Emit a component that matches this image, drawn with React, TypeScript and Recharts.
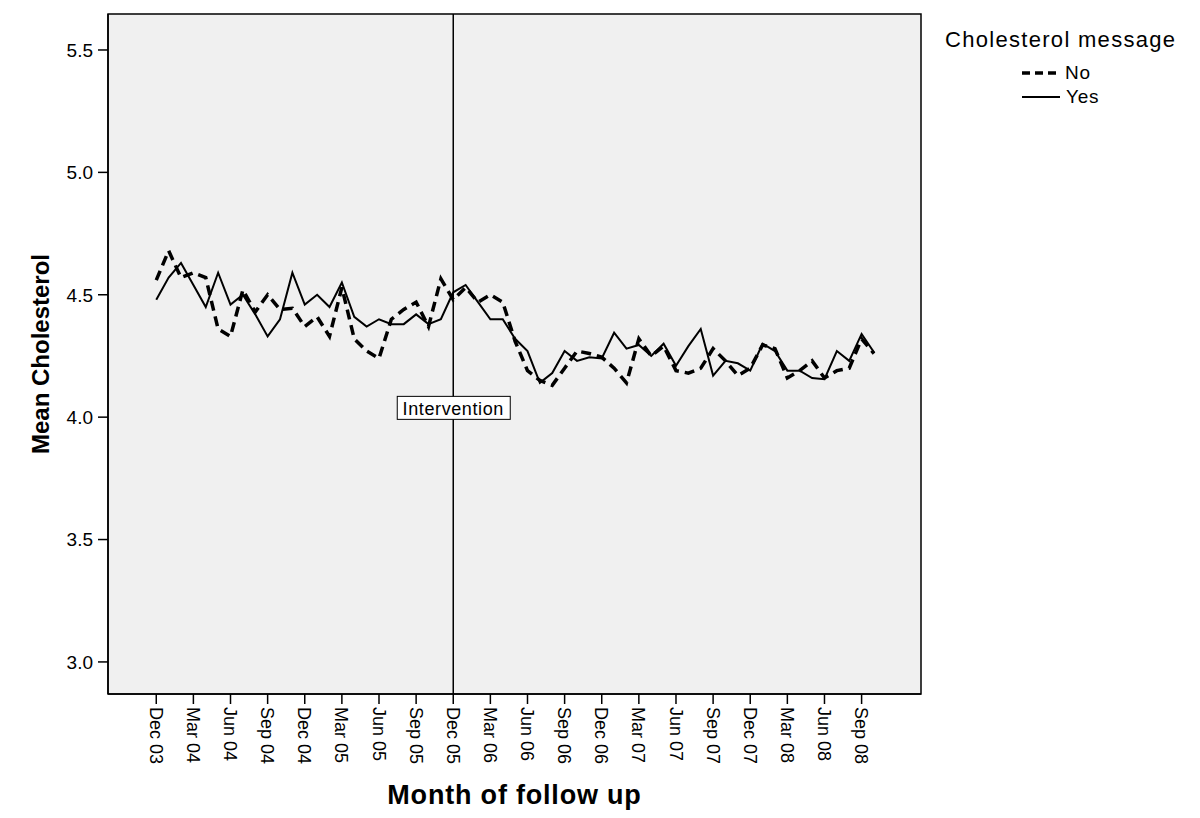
import React from "react"
import {
  LineChart,
  Line,
  XAxis,
  YAxis,
  CartesianGrid,
  ReferenceLine,
  ReferenceArea,
  ReferenceDot,
} from "recharts"

const months = [
  "Dec 03", "Jan 04", "Feb 04", "Mar 04", "Apr 04", "May 04", "Jun 04", "Jul 04", "Aug 04", "Sep 04", "Oct 04", "Nov 04",
  "Dec 04", "Jan 05", "Feb 05", "Mar 05", "Apr 05", "May 05", "Jun 05", "Jul 05", "Aug 05", "Sep 05", "Oct 05", "Nov 05",
  "Dec 05", "Jan 06", "Feb 06", "Mar 06", "Apr 06", "May 06", "Jun 06", "Jul 06", "Aug 06", "Sep 06", "Oct 06", "Nov 06",
  "Dec 06", "Jan 07", "Feb 07", "Mar 07", "Apr 07", "May 07", "Jun 07", "Jul 07", "Aug 07", "Sep 07", "Oct 07", "Nov 07",
  "Dec 07", "Jan 08", "Feb 08", "Mar 08", "Apr 08", "May 08", "Jun 08", "Jul 08", "Aug 08", "Sep 08", "Oct 08",
]

const noMessage = [
  4.56, 4.68, 4.57, 4.59, 4.57, 4.36, 4.33, 4.52, 4.43, 4.5, 4.44, 4.445,
  4.37, 4.41, 4.33, 4.53, 4.32, 4.27, 4.24, 4.4, 4.44, 4.47, 4.37, 4.565,
  4.48, 4.53, 4.47, 4.5, 4.47, 4.31, 4.19, 4.15, 4.13, 4.2, 4.27, 4.26,
  4.245, 4.2, 4.14, 4.32, 4.25, 4.29, 4.19, 4.18, 4.2, 4.28, 4.23, 4.17,
  4.2, 4.295, 4.28, 4.16, 4.19, 4.23, 4.16, 4.19, 4.2, 4.32, 4.26,
]

const yesMessage = [
  4.48, 4.57, 4.63, 4.54, 4.45, 4.59, 4.46, 4.5, 4.42, 4.33, 4.4, 4.59,
  4.46, 4.5, 4.45, 4.55, 4.41, 4.37, 4.4, 4.38, 4.38, 4.42, 4.38, 4.4,
  4.51, 4.54, 4.47, 4.4, 4.4, 4.32, 4.27, 4.14, 4.18, 4.27, 4.23, 4.245,
  4.24, 4.345, 4.28, 4.295, 4.25, 4.3, 4.21, 4.29, 4.36, 4.17, 4.23, 4.22,
  4.19, 4.3, 4.27, 4.19, 4.19, 4.16, 4.155, 4.27, 4.23, 4.34, 4.265,
]

const xTicks = [0, 3, 6, 9, 12, 15, 18, 21, 24, 27, 30, 33, 36, 39, 42, 45, 48, 51, 54, 57]
const yTicks = [3.0, 3.5, 4.0, 4.5, 5.0, 5.5]
const interventionIndex = 24

const X_DOMAIN: [number, number] = [-3.9, 61.8]
const Y_DOMAIN: [number, number] = [2.869, 5.647]
const FONT = "Arial, 'Liberation Sans', sans-serif"

const data = months.map((m, i) => ({ idx: i, month: m, no: noMessage[i], yes: yesMessage[i] }))

function MonthTick(props: any) {
  const { x, y, payload } = props
  return (
    <g transform={`translate(${x},${y})`}>
      <text
        transform="rotate(90)"
        x={0}
        y={0}
        dy="0.36em"
        textAnchor="start"
        fontSize={18}
        fontFamily={FONT}
        fill="#000"
      >
        {months[payload.value]}
      </text>
    </g>
  )
}

function InterventionBox(props: any) {
  const { cx, cy } = props
  return (
    <g>
      <rect x={cx - 56} y={cy - 11} width={113} height={23} fill="#fff" stroke="#000" strokeWidth={1} />
      <text
        x={cx}
        y={cy + 1}
        dy="0.36em"
        textAnchor="middle"
        fontSize={18}
        letterSpacing={0.6}
        fontFamily={FONT}
        fill="#000"
      >
        Intervention
      </text>
    </g>
  )
}

export default function App() {
  return (
    <div style={{ position: "absolute", left: 0, top: 0, width: 1200, height: 818, background: "#fff" }}>
      <LineChart width={1200} height={818} data={data} margin={{ top: 14, right: 279, bottom: 34, left: 48 }}>
        <CartesianGrid horizontal={false} vertical={false} fill="#f0f0f0" />
        <ReferenceArea
          x1={X_DOMAIN[0]}
          x2={X_DOMAIN[1]}
          y1={Y_DOMAIN[0]}
          y2={Y_DOMAIN[1]}
          fill="none"
          stroke="#000"
          strokeWidth={1.5}
          ifOverflow="visible"
        />
        <XAxis
          dataKey="idx"
          type="number"
          domain={X_DOMAIN}
          ticks={xTicks}
          allowDataOverflow
          interval={0}
          height={90}
          tickSize={10}
          tickMargin={3}
          tickLine={{ stroke: "#000", strokeWidth: 1.5 }}
          axisLine={{ stroke: "#000", strokeWidth: 1.5 }}
          tick={<MonthTick />}
          label={{
            value: "Month of follow up",
            position: "bottom",
            offset: 1,
            style: { fontSize: 27, fontWeight: "bold", letterSpacing: 0.8, fontFamily: FONT, fill: "#000" },
          }}
        />
        <YAxis
          type="number"
          domain={Y_DOMAIN}
          ticks={yTicks}
          allowDataOverflow
          width={60}
          tickSize={10}
          tickMargin={5}
          tickLine={{ stroke: "#000", strokeWidth: 1.5 }}
          axisLine={{ stroke: "#000", strokeWidth: 1.5 }}
          tickFormatter={(v: number) => v.toFixed(1)}
          tick={{ fontSize: 19, fontFamily: FONT, fill: "#000" }}
          label={{
            value: "Mean Cholesterol",
            angle: -90,
            position: "insideLeft",
            offset: -8,
            style: { textAnchor: "middle", fontSize: 24, fontWeight: "bold", fontFamily: FONT, fill: "#000" },
          }}
        />
        <ReferenceLine x={interventionIndex} stroke="#000" strokeWidth={1.5} />
        <Line
          dataKey="no"
          type="linear"
          stroke="#000"
          strokeWidth={3.5}
          strokeDasharray="10 6"
          dot={false}
          activeDot={false}
          isAnimationActive={false}
        />
        <Line
          dataKey="yes"
          type="linear"
          stroke="#000"
          strokeWidth={2}
          dot={false}
          activeDot={false}
          isAnimationActive={false}
        />
        <ReferenceDot x={interventionIndex} y={4.04} shape={<InterventionBox />} ifOverflow="visible" />
      </LineChart>
      <div style={{ position: "absolute", left: 945, top: 26, fontFamily: FONT, color: "#000", width: 255 }}>
        <div style={{ fontSize: 22, lineHeight: "28px", letterSpacing: 1.3, whiteSpace: "nowrap" }}>Cholesterol message</div>
        <div style={{ position: "absolute", left: 77, top: 36, display: "flex", alignItems: "center", fontSize: 19, lineHeight: "22px", letterSpacing: 0.8 }}>
          <svg width={40} height={10} style={{ marginRight: 3 }}>
            <line x1={0} y1={5} x2={36} y2={5} stroke="#000" strokeWidth={3.5} strokeDasharray="8 5" />
          </svg>
          <span>No</span>
        </div>
        <div style={{ position: "absolute", left: 77, top: 60, display: "flex", alignItems: "center", fontSize: 19, lineHeight: "22px", letterSpacing: 0.8 }}>
          <svg width={40} height={10} style={{ marginRight: 4 }}>
            <line x1={0} y1={5} x2={38} y2={5} stroke="#000" strokeWidth={2} />
          </svg>
          <span>Yes</span>
        </div>
      </div>
    </div>
  )
}
